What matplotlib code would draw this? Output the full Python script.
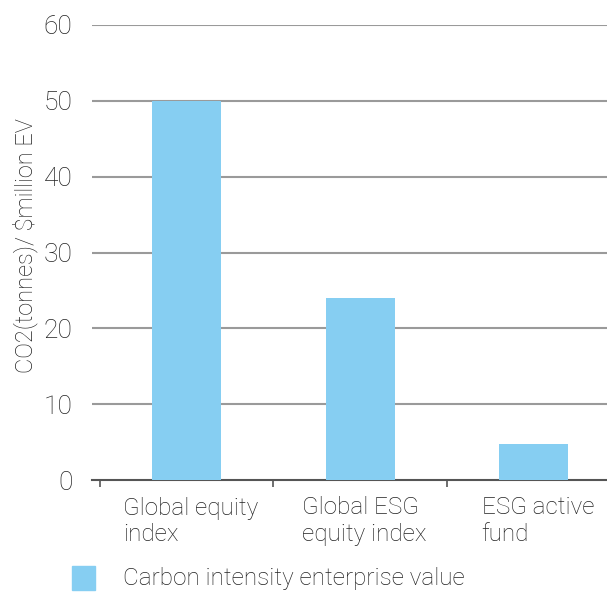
import matplotlib
matplotlib.use('Agg')
import matplotlib.pyplot as plt
from matplotlib.patches import Rectangle
from matplotlib.transforms import blended_transform_factory, ScaledTranslation

categories = ['Global equity\nindex', 'Global ESG\nequity index', 'ESG active\nfund']
values = [50, 24, 4.8]
series_name = 'Carbon intensity enterprise value'

BAR = '#86CEF2'
TXT = '#222222'
GRID = '#9a9a9a'
WT = 'light'

plt.rcParams['font.family'] = ['Roboto', 'DejaVu Sans']

fig = plt.figure(figsize=(6.07, 5.92), dpi=100)
W, H = 607, 592
ax = fig.add_axes([92 / W, 1 - 480 / H, (W - 92) / W, (480 - 25) / H])

x = list(range(len(categories)))
ax.bar(x, values, width=0.4, color=BAR, zorder=3)

ax.set_ylim(0, 60)
ax.set_yticks(range(0, 61, 10))
ax.set_xlim(-0.546, 2.422)
for y in range(10, 61, 10):
    ax.axhline(y, color=GRID, linewidth=1.5, zorder=1)

for s in ['top', 'right', 'left']:
    ax.spines[s].set_visible(False)
ax.spines['bottom'].set_color('#555555')
ax.spines['bottom'].set_linewidth(1.5)

# category labels (centred block, left-aligned lines), nudged right a little
ax.set_xticks([])
trans = blended_transform_factory(ax.transData, ax.transAxes) + \
    ScaledTranslation(4 / 100, -16.5 / 100, fig.dpi_scale_trans)
for xi, name in zip(x, categories):
    ax.text(xi, 0, name, transform=trans, ha='center', va='top',
            multialignment='left', linespacing=1.2, fontsize=17.5,
            color=TXT, fontweight=WT)
ax.set_xticks([-0.5, 0.5, 1.5], minor=True)
ax.tick_params(axis='x', which='minor', length=5, width=1.2, color='#555555')
ax.tick_params(axis='y', length=0, pad=14, labelsize=19, labelcolor=TXT)
for lab in ax.get_yticklabels():
    lab.set_fontweight(WT)

ax.set_ylabel('CO2(tonnes)/ $million EV', fontsize=17, color=TXT,
              fontweight=WT)
ax.yaxis.set_label_coords(-0.105, 0.515)

# legend
fig.patches.append(Rectangle((72 / W, 1 - 590 / H), 23 / W, 24 / H,
                             transform=fig.transFigure, color=BAR))
fig.text(123 / W, 1 - 579 / H, series_name, fontsize=17.5, color=TXT,
         fontweight=WT, va='center', ha='left')

fig.savefig('out.png', dpi=100)
